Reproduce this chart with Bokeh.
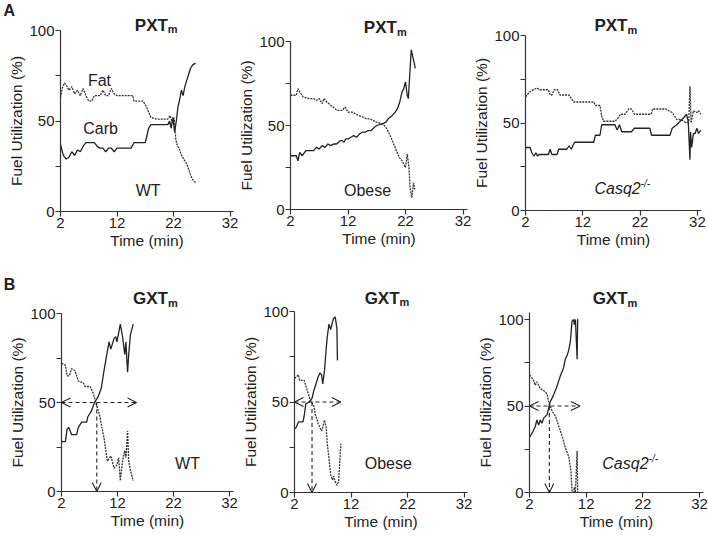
from bokeh.plotting import figure
from bokeh.layouts import column, row
from bokeh.models import Range1d, FixedTicker, Label, Arrow, OpenHead
from bokeh.embed import file_html
from bokeh.resources import INLINE

FONT = "Liberation Sans"

# ---------------- data ----------------
x_ticks = [2, 12, 22, 32]
y_ticks = [0, 25, 50, 75, 100]
y_tick_labels = {0: "0", 25: "", 50: "50", 75: "", 100: "100"}

# PXTm WT
pxt_wt_carb_t = [2.0, 2.5, 3.0, 3.5, 4.0, 4.5, 5.0, 5.5, 6.0, 6.5, 7.0, 7.5, 8.0, 8.5, 9.0, 9.5, 10.0, 10.5, 11.0, 11.5, 12.0, 13.0, 14.0, 14.5, 15.0, 16.0, 17.0, 17.3, 17.6, 18.0, 19.0, 20.0, 21.0, 21.3, 21.6, 21.9, 22.2, 22.5, 22.8, 23.1, 23.4, 23.7, 24.0, 24.3, 24.6, 25.0, 25.4, 25.9]
pxt_wt_carb = [37, 31, 29, 30, 33, 31, 34, 33, 36, 38, 38, 38, 38, 36, 35, 35, 33, 35, 35, 33, 35, 35, 35, 35, 38, 38, 38, 42, 46, 48, 48, 48, 48, 50, 46, 52, 44, 50, 58, 62, 67, 64, 69, 72, 75, 79, 81, 82]
pxt_wt_fat_t = [2.0, 2.3, 2.7, 3.0, 3.5, 4.0, 4.5, 5.0, 5.5, 6.0, 6.5, 7.0, 7.5, 8.0, 9.0, 9.5, 10.0, 10.5, 11.0, 11.5, 12.0, 13.0, 14.0, 14.8, 15.0, 16.0, 16.6, 17.2, 17.6, 18.0, 19.0, 20.0, 21.0, 21.4, 21.8, 22.1, 22.4, 22.7, 23.0, 23.3, 23.6, 24.0, 24.4, 24.8, 25.3, 25.9]
pxt_wt_fat = [63, 68, 71, 70, 67, 69, 65, 67, 64, 68, 64, 61, 61, 64, 64, 67, 64, 64, 68, 65, 64, 64, 64, 64, 61, 61, 61, 58, 55, 52, 51, 51, 51, 53, 49, 52, 40, 36, 35, 32, 30, 28, 26, 22, 18, 16]

# PXTm Obese
pxt_ob_carb_t = [2.0, 2.5, 3.0, 3.3, 3.6, 4.0, 4.7, 5.5, 6.0, 6.5, 7.0, 7.5, 8.0, 8.5, 9.0, 9.5, 10.0, 10.7, 11.0, 11.3, 11.6, 12.0, 12.5, 13.0, 13.5, 14.0, 14.5, 15.0, 15.5, 16.0, 16.6, 17.0, 18.0, 18.6, 19.0, 19.7, 20.2, 20.6, 21.0, 21.2, 21.4, 21.7, 22.0, 22.3, 22.5, 22.7, 23.0, 23.4, 23.7]
pxt_ob_carb = [32, 32, 32, 29, 34, 32, 35, 35, 35, 37, 36, 38, 37, 39, 38, 39, 39, 41, 41, 40, 42, 42, 43, 44, 43, 45, 46, 46, 47, 47, 49, 50, 51, 52, 54, 56, 58, 60, 64, 67, 70, 72, 76, 68, 66, 78, 95, 89, 84]
pxt_ob_fat_t = [2.0, 3.0, 3.3, 3.6, 4.2, 5.3, 6.0, 6.5, 7.0, 7.5, 7.8, 8.3, 9.0, 10.1, 11.0, 11.5, 12.0, 12.7, 13.8, 14.6, 15.2, 15.8, 16.9, 18.0, 18.6, 19.2, 19.7, 20.3, 20.9, 21.4, 22.0, 22.3, 22.6, 22.8, 23.1, 23.4, 23.6]
pxt_ob_fat = [68, 68, 72, 70, 67, 66, 66, 65, 66, 63, 66, 64, 62, 59, 59, 61, 58, 58, 56, 55, 54, 54, 52, 51, 49, 45, 41, 36, 31, 29, 25, 33, 25, 13, 7, 16, 12]

# PXTm Casq2-/-
pxt_cq_carb_t = [2.0, 2.8, 3.1, 3.5, 3.8, 4.1, 4.3, 5.0, 6.0, 6.3, 6.6, 7.5, 7.8, 9.2, 9.6, 10.0, 10.4, 10.6, 11.0, 13.9, 14.2, 15.0, 15.3, 17.6, 18.0, 18.4, 18.8, 19.4, 20.5, 21.0, 23.7, 24.0, 27.2, 27.6, 28.4, 29.0, 29.6, 30.1, 30.4, 30.7, 30.8, 31.0, 31.3, 31.6, 31.9, 32.2, 32.6]
pxt_cq_carb = [36, 36, 33, 31, 33, 31, 32, 32, 32, 35, 32, 32, 35, 35, 37, 35, 38, 39, 39, 39, 43, 43, 49, 49, 46, 49, 45, 45, 45, 47, 47, 43, 43, 47, 49, 51, 53, 55, 51, 29, 45, 36, 44, 44, 47, 44, 46]
pxt_cq_fat_t = [2.0, 2.8, 4.0, 4.5, 6.0, 6.3, 6.6, 7.0, 7.6, 8.0, 9.6, 10.0, 10.4, 13.9, 14.2, 15.0, 15.3, 15.6, 17.6, 18.2, 18.6, 19.4, 20.0, 20.5, 21.0, 23.9, 24.2, 26.5, 27.0, 27.6, 28.4, 29.0, 29.6, 30.1, 30.5, 30.7, 30.9, 31.3, 31.9, 32.2, 32.6]
pxt_cq_fat = [65, 68, 70, 69, 69, 66, 66, 69, 69, 66, 66, 64, 62, 62, 60, 60, 54, 51, 51, 53, 55, 55, 58, 58, 55, 55, 58, 58, 57, 56, 52, 52, 51, 50, 51, 71, 50, 57, 56, 57, 55]

# GXTm WT
gxt_wt_carb_t = [2.0, 2.7, 3.0, 3.3, 3.8, 4.7, 5.0, 5.6, 6.5, 6.7, 7.3, 7.9, 8.5, 9.1, 9.6, 10.2, 10.5, 10.8, 11.4, 11.7, 11.9, 12.5, 12.9, 13.3, 13.5, 13.8, 14.0, 14.3, 14.8]
gxt_wt_carb = [28, 28, 35, 36, 32, 32, 36, 39, 39, 42, 45, 50, 53, 58, 68, 79, 84, 80, 86, 87, 84, 94, 87, 77, 84, 67, 77, 88, 94]
gxt_wt_fat_t = [2.0, 2.7, 3.0, 3.4, 3.8, 4.4, 5.0, 5.9, 6.2, 7.1, 7.7, 8.2, 8.8, 9.1, 9.6, 9.9, 10.2, 10.8, 11.4, 11.9, 12.2, 12.5, 12.9, 13.3, 13.5, 13.8, 14.0, 14.3, 14.8]
gxt_wt_fat = [72, 71, 65, 65, 69, 68, 62, 61, 59, 59, 55, 49, 43, 38, 30, 23, 17, 20, 13, 15, 19, 6, 17, 23, 19, 34, 17, 12, 6]

# GXTm Obese
gxt_ob_carb_t = [2.0, 2.3, 2.7, 3.5, 3.7, 4.0, 4.6, 5.1, 5.4, 5.7, 6.2, 6.5, 6.8, 7.0, 7.3, 7.6, 7.8, 8.1, 8.4, 8.7, 8.9, 9.2, 9.5, 9.6]
gxt_ob_carb = [35, 36, 39, 39, 42, 49, 50, 52, 56, 59, 64, 66, 65, 60, 67, 79, 86, 93, 90, 94, 96, 97, 91, 73]
gxt_ob_fat_t = [2.0, 2.7, 2.9, 3.7, 4.3, 4.8, 5.4, 5.7, 6.2, 6.8, 7.0, 7.3, 7.6, 7.8, 8.1, 8.4, 8.7, 8.9, 9.2, 9.5, 9.8, 10.0, 10.2]
gxt_ob_fat = [63, 65, 62, 62, 56, 51, 48, 43, 38, 34, 36, 40, 36, 27, 19, 10, 7, 9, 6, 4, 6, 16, 27]

# GXTm Casq2-/-
gxt_cq_carb_t = [2.0, 2.4, 2.7, 3.0, 3.3, 3.6, 3.9, 4.2, 4.5, 5.1, 5.4, 5.6, 6.2, 6.8, 7.4, 8.0, 8.3, 8.6, 8.9, 9.2, 9.5, 9.8, 9.9, 10.1, 10.4, 10.5, 10.6]
gxt_cq_carb = [32, 34, 36, 38, 42, 39, 42, 40, 43, 45, 49, 52, 56, 61, 67, 72, 77, 79, 82, 87, 99, 100, 97, 100, 77, 100, 100]
gxt_cq_fat_t = [2.0, 2.7, 3.0, 3.3, 3.9, 4.5, 5.1, 5.4, 6.0, 6.6, 7.2, 7.8, 8.3, 8.9, 9.3, 9.5, 9.8, 9.9, 10.1, 10.4, 10.5, 10.6]
gxt_cq_fat = [68, 65, 62, 64, 60, 59, 57, 52, 47, 44, 38, 32, 26, 21, 13, 1, 0, 3, 0, 24, 0, 0]

# crossover (50 %) markers for GXTm: horizontal arrow end, crossover time
gxt_arrow_end = [15.4, 10.2, 10.9]
gxt_cross_time = [8.3, 5.1, 5.5]

INK = "#222222"
AX = "#333333"


def make_panel(w, h, x0, sx, y0, sy, y_top, ct, cy, ft, fy):
    # whole canvas is the frame; axes are pinned at x=2 and y=0
    p = figure(width=w, height=h, output_backend="svg", toolbar_location=None,
               x_range=Range1d(2 - x0 / sx, 2 + (w - x0) / sx),
               y_range=Range1d(-y0 / sy, (h - y0) / sy),
               min_border=0, min_border_left=0, min_border_right=0,
               min_border_top=0, min_border_bottom=0)
    p.title.visible = False
    p.outline_line_color = None
    p.xgrid.visible = False
    p.ygrid.visible = False
    p.background_fill_color = "white"
    p.border_fill_color = "white"
    for ax in (p.xaxis[0], p.yaxis[0]):
        ax.axis_line_color = AX
        ax.major_tick_line_color = AX
        ax.axis_line_width = 1.2
        ax.major_tick_line_width = 1.2
        ax.major_tick_out = 5
        ax.major_tick_in = 0
        ax.minor_tick_line_color = None
        ax.major_label_text_font = FONT
        ax.major_label_text_font_size = "15px"
        ax.major_label_text_color = INK
        ax.axis_label_text_font = FONT
        ax.axis_label_text_font_size = "15.5px"
        ax.axis_label_text_font_style = "normal"
        ax.axis_label_text_color = INK
        ax.major_label_standoff = 1
        ax.axis_label_standoff = 1
    xa, ya = p.xaxis[0], p.yaxis[0]
    xa.fixed_location = 0
    ya.fixed_location = 2
    xa.bounds = (2, 32.7)
    ya.bounds = (0, y_top)
    xa.ticker = FixedTicker(ticks=x_ticks)
    ya.ticker = FixedTicker(ticks=y_ticks)
    ya.major_label_overrides = y_tick_labels
    xa.axis_label = "Time (min)"
    ya.axis_label = "Fuel Utilization (%)"
    p.line(ft, fy, line_color="#333333", line_width=1.3, line_dash="2 1")
    p.line(ct, cy, line_color=INK, line_width=1.3)
    return p


def lab(p, x, y, text, size="16px", style="normal", align="center", yoff=0):
    p.add_layout(Label(x=x, y=y, text=text, text_font=FONT, text_font_size=size,
                       text_font_style=style, text_color=INK, text_align=align,
                       text_baseline="middle", y_offset=yoff))


def title(p, x, y, main):
    lab(p, x, y, main, size="17px", style="bold", align="right")
    lab(p, x, y, "m", size="11px", style="bold", align="left", yoff=-4)


def casq(p, x, y):
    lab(p, x, y, "Casq2", style="italic", align="right")
    lab(p, x, y, "-/-", size="10px", style="italic", align="left", yoff=5)


def arrows(p, xe, xc):
    p.add_layout(Arrow(start=OpenHead(size=9, line_color=INK, line_width=1.1),
                       end=OpenHead(size=9, line_color=INK, line_width=1.1),
                       x_start=2, y_start=50, x_end=xe, y_end=50,
                       line_color=INK, line_width=1.1, line_dash="4 3"))
    p.add_layout(Arrow(end=OpenHead(size=9, line_color=INK, line_width=1.1),
                       x_start=xc, y_start=50, x_end=xc, y_end=0,
                       line_color=INK, line_width=1.1, line_dash="4 3"))


# panels: width, height, x-origin px, px/min, y-origin px from bottom, px/%
a1 = make_panel(238, 270, 60, 5.65, 59, 1.81, 100, pxt_wt_carb_t, pxt_wt_carb, pxt_wt_fat_t, pxt_wt_fat)
a2 = make_panel(234, 270, 52, 5.75, 61, 1.68, 100, pxt_ob_carb_t, pxt_ob_carb, pxt_ob_fat_t, pxt_ob_fat)
a3 = make_panel(236, 270, 53, 5.73, 60, 1.75, 100, pxt_cq_carb_t, pxt_cq_carb, pxt_cq_fat_t, pxt_cq_fat)
b1 = make_panel(238, 271, 61, 5.60, 50, 1.78, 100, gxt_wt_carb_t, gxt_wt_carb, gxt_wt_fat_t, gxt_wt_fat)
b2 = make_panel(234, 271, 56, 5.65, 49, 1.81, 100, gxt_ob_carb_t, gxt_ob_carb, gxt_ob_fat_t, gxt_ob_fat)
b3 = make_panel(236, 271, 57, 5.67, 49, 1.73, 104, gxt_cq_carb_t, gxt_cq_carb, gxt_cq_fat_t, gxt_cq_fat)

title(a1, 21.0, 102.8, "PXT")
title(a2, 20.5, 108.3, "PXT")
title(a3, 19.8, 105.7, "PXT")
title(b1, 21.0, 108.4, "GXT")
title(b2, 20.6, 107.2, "GXT")
title(b3, 19.3, 112.0, "GXT")

lab(a1, -8.1, 111, "A", size="16px", style="bold", align="left")
lab(b1, -8.3, 116.3, "B", size="16px", style="bold", align="left")

lab(a1, 8.9, 72.4, "Fat")
lab(a1, 9.1, 45.9, "Carb")
lab(a1, 17.5, 11.6, "WT")
lab(a2, 15.4, 11.3, "Obese")
casq(a3, 22.1, 12.6)
lab(b1, 24.5, 15.7, "WT")
lab(b2, 18.6, 16.0, "Obese")
casq(b3, 23.0, 16.8)

for p, xe, xc in zip((b1, b2, b3), gxt_arrow_end, gxt_cross_time):
    arrows(p, xe, xc)

layout = column(row(a1, a2, a3, spacing=0), row(b1, b2, b3, spacing=0), spacing=0)

open("out.html", "w").write(file_html(layout, INLINE))
